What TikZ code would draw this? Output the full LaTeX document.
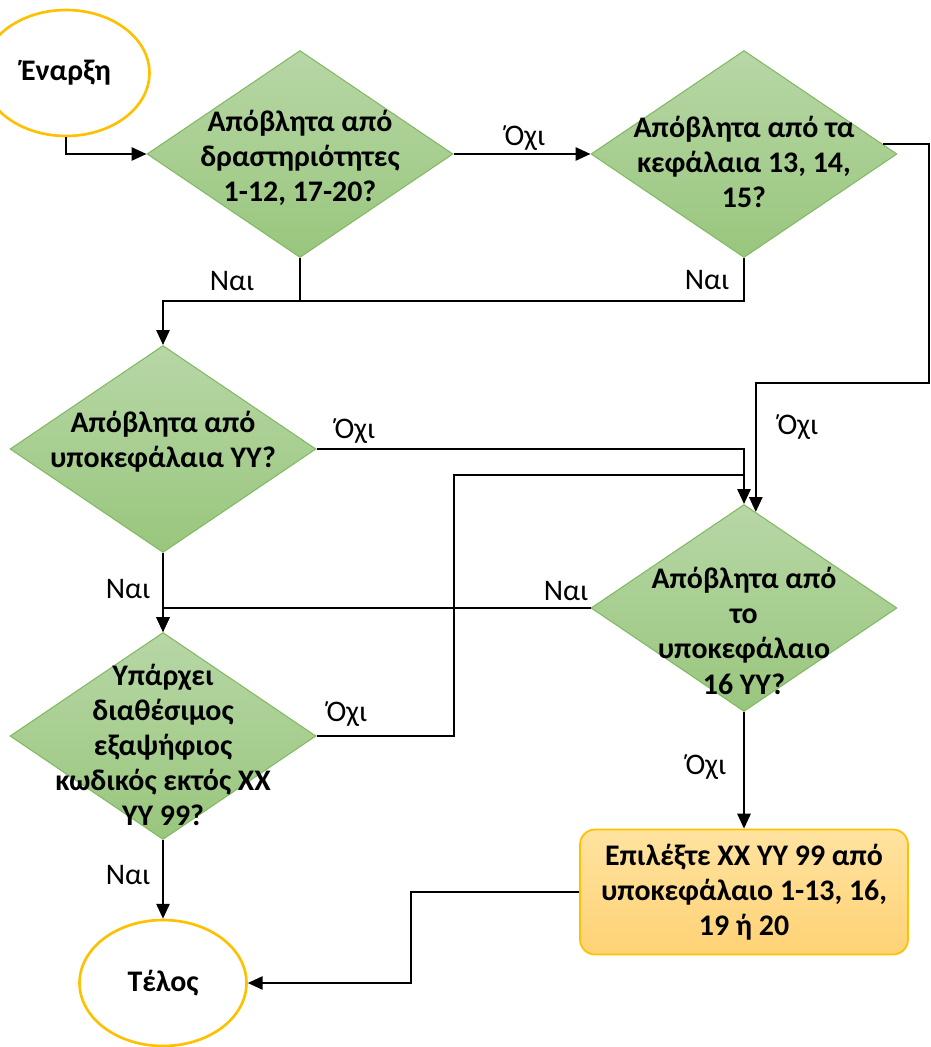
\documentclass[tikz,border=0pt]{standalone}
\usepackage{fontspec}
\setmainfont{Carlito}
\usetikzlibrary{shapes.geometric,arrows.meta,calc}

\definecolor{termline}{RGB}{255,192,0}
\definecolor{decline}{RGB}{130,185,100}
\definecolor{dectop}{RGB}{183,215,166}
\definecolor{decbot}{RGB}{153,198,125}
\definecolor{acttop}{RGB}{255,227,160}
\definecolor{actbot}{RGB}{255,210,117}

\begin{document}
\begin{tikzpicture}[x=0.02cm, y=-0.02cm,
    every node/.style={font=\fontsize{17}{20}\selectfont},
    term/.style={ellipse, draw=termline, line width=1.5pt, fill=white, inner sep=0pt,
                 minimum width=3.34cm, minimum height=2.52cm, font=\fontsize{17}{20}\selectfont\bfseries},
    decision/.style={diamond, draw=decline, line width=0.6pt, top color=dectop, bottom color=decbot,
                     inner sep=0pt, minimum width=6.12cm, minimum height=4.14cm},
    dtext/.style={align=center, inner sep=0pt, font=\fontsize{17}{20}\selectfont\bfseries},
    action/.style={rectangle, rounded corners=0.3cm, draw=termline, line width=1pt,
                   top color=acttop, bottom color=actbot, minimum width=6.56cm, minimum height=2.5cm,
                   align=center, font=\fontsize{17}{20}\selectfont\bfseries},
    lbl/.style={inner sep=0pt},
    arr/.style={-{Triangle[length=8.5pt,width=7.5pt]}, line width=1.3pt},
    conn/.style={line width=1.3pt}]
  \useasboundingbox (0,0) rectangle (930,1047);

  % shapes
  \node[term] (start) at (66,73) {Έναρξη};
  \node[decision, label={[dtext,yshift=-2pt]center:{Απόβλητα από\\δραστηριότητες\\1-12, 17-20?}}] (d1) at (300,154) {};
  \node[decision, label={[dtext,yshift=-4.5pt]center:{Απόβλητα από τα\\κεφάλαια 13, 14,\\15?}}] (d2) at (744,154) {};
  \node[decision, label={[dtext,yshift=4pt]center:{Απόβλητα από\\υποκεφάλαια YY?}}] (d3) at (163,449) {};
  \node[decision, label={[dtext,yshift=-13pt]center:{Απόβλητα από\\το\\υποκεφάλαιο\\16 YY?}}] (d4) at (744,608) {};
  \node[decision, label={[dtext,yshift=-5pt]center:{Υπάρχει\\διαθέσιμος\\εξαψήφιος\\κωδικός εκτός XX\\YY 99?}}] (d5) at (163,736) {};
  \node[action] (act) at (744,892) {Επιλέξτε XX YY 99 από\\υποκεφάλαιο 1-13, 16,\\19 ή 20};
  \node[term] (end) at (163,983) {Τέλος};

  % bends
  \coordinate (j1) at (300,301);
  \coordinate (j2) at (454,475);
  \coordinate (r1) at (929,383);

  % connectors
  \draw[arr] (start.south) |- (d1.west);
  \draw[arr] (d1.east) -- (d2.west);
  \draw[arr] (d1.south) -- (j1) -| (d3.north);
  \draw[conn] (d2.south) |- (j1);
  \draw[arr] (d2.4) -| (r1) -| (d4.83);
  \draw[arr] (d3.east) -| (d4.north);
  \draw[conn] (d5.east) -| (j2) -- (j2 -| d4.north);
  \draw[arr] (d3.south) -- (d5.north);
  \draw[arr] (d4.west) -| (d5.north);
  \draw[arr] (d4.south) -- (act.north);
  \draw[arr] (d5.south) -- (end.north);
  \draw[arr] (act.west) -- ++(-168,0) |- (end.east);

  % answers
  \node[lbl] (o1) at (525,138) {Όχι};
  \node[lbl] (y1) at (232,281) {Ναι};
  \node[lbl] (y2) at (707,280) {Ναι};
  \node[lbl] (o2) at (798,427) {Όχι};
  \node[lbl] (o3) at (355,431) {Όχι};
  \node[lbl] (y3) at (128,589) {Ναι};
  \node[lbl] (y4) at (566,591) {Ναι};
  \node[lbl] (o4) at (347,714) {Όχι};
  \node[lbl] (o5) at (706,767) {Όχι};
  \node[lbl] (y5) at (128,875) {Ναι};
\end{tikzpicture}
\end{document}
